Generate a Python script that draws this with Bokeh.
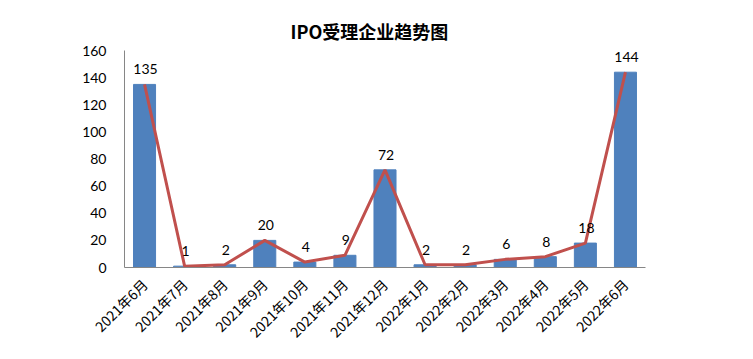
from bokeh.plotting import figure
from bokeh.models import ColumnDataSource, Range1d, FactorRange
from bokeh.core.properties import value
from bokeh.embed import file_html
from bokeh.resources import INLINE
import math

months = ["2021年6月", "2021年7月", "2021年8月", "2021年9月", "2021年10月", "2021年11月",
          "2021年12月", "2022年1月", "2022年2月", "2022年3月", "2022年4月", "2022年5月", "2022年6月"]
counts = [135, 1, 2, 20, 4, 9, 72, 2, 2, 6, 8, 18, 144]
y_ticks = [0, 20, 40, 60, 80, 100, 120, 140, 160]
title_text = "IPO受理企业趋势图"

src = ColumnDataSource(dict(m=months, v=counts, lab=[str(c) for c in counts]))

p = figure(width=745, height=351, x_range=FactorRange(*months), y_range=Range1d(0, 160),
           output_backend="svg", toolbar_location=None,
           min_border_left=124, min_border_right=100, min_border_top=50, min_border_bottom=83)
p.outline_line_color = None
p.xgrid.grid_line_color = None
p.ygrid.grid_line_color = None
p.x_range.range_padding = 0
p.x_range.group_padding = 0

p.vbar(x="m", top="v", width=0.55, source=src, fill_color="#4F81BD", line_color="#4F81BD")
p.line(x="m", y="v", source=src, line_color="#C0504D", line_width=3)
p.text(x="m", y="v", text="lab", source=src, text_align="center", text_baseline="bottom",
       x_offset=1, y_offset=-10, text_font=value("Lato"), text_font_size="14px", text_color="#000000")

p.title.text = title_text
p.title.align = "left"
p.title.offset = 166
p.title.standoff = 13
p.title.text_font = "Noto Sans CJK SC"
p.title.text_font_style = "bold"
p.title.text_font_size = "18px"
p.title.text_color = "#000000"

p.yaxis.ticker = y_ticks
p.yaxis.major_tick_line_color = None
p.yaxis.minor_tick_line_color = None
p.yaxis.axis_line_color = "#868686"
p.yaxis.major_label_text_font = "Lato"
p.yaxis.major_label_text_font_size = "14px"
p.yaxis.major_label_text_color = "#000000"
p.yaxis.major_label_standoff = 12

p.xaxis.major_tick_line_color = None
p.xaxis.minor_tick_line_color = None
p.xaxis.axis_line_color = "#868686"
p.xaxis.major_label_orientation = math.pi / 4
p.xaxis.major_label_text_font = "Noto Sans CJK SC"
p.xaxis.major_label_text_font_size = "14px"
p.xaxis.major_label_text_color = "#000000"
p.xaxis.major_label_standoff = 8

open("out.html", "w").write(file_html(p, INLINE))
